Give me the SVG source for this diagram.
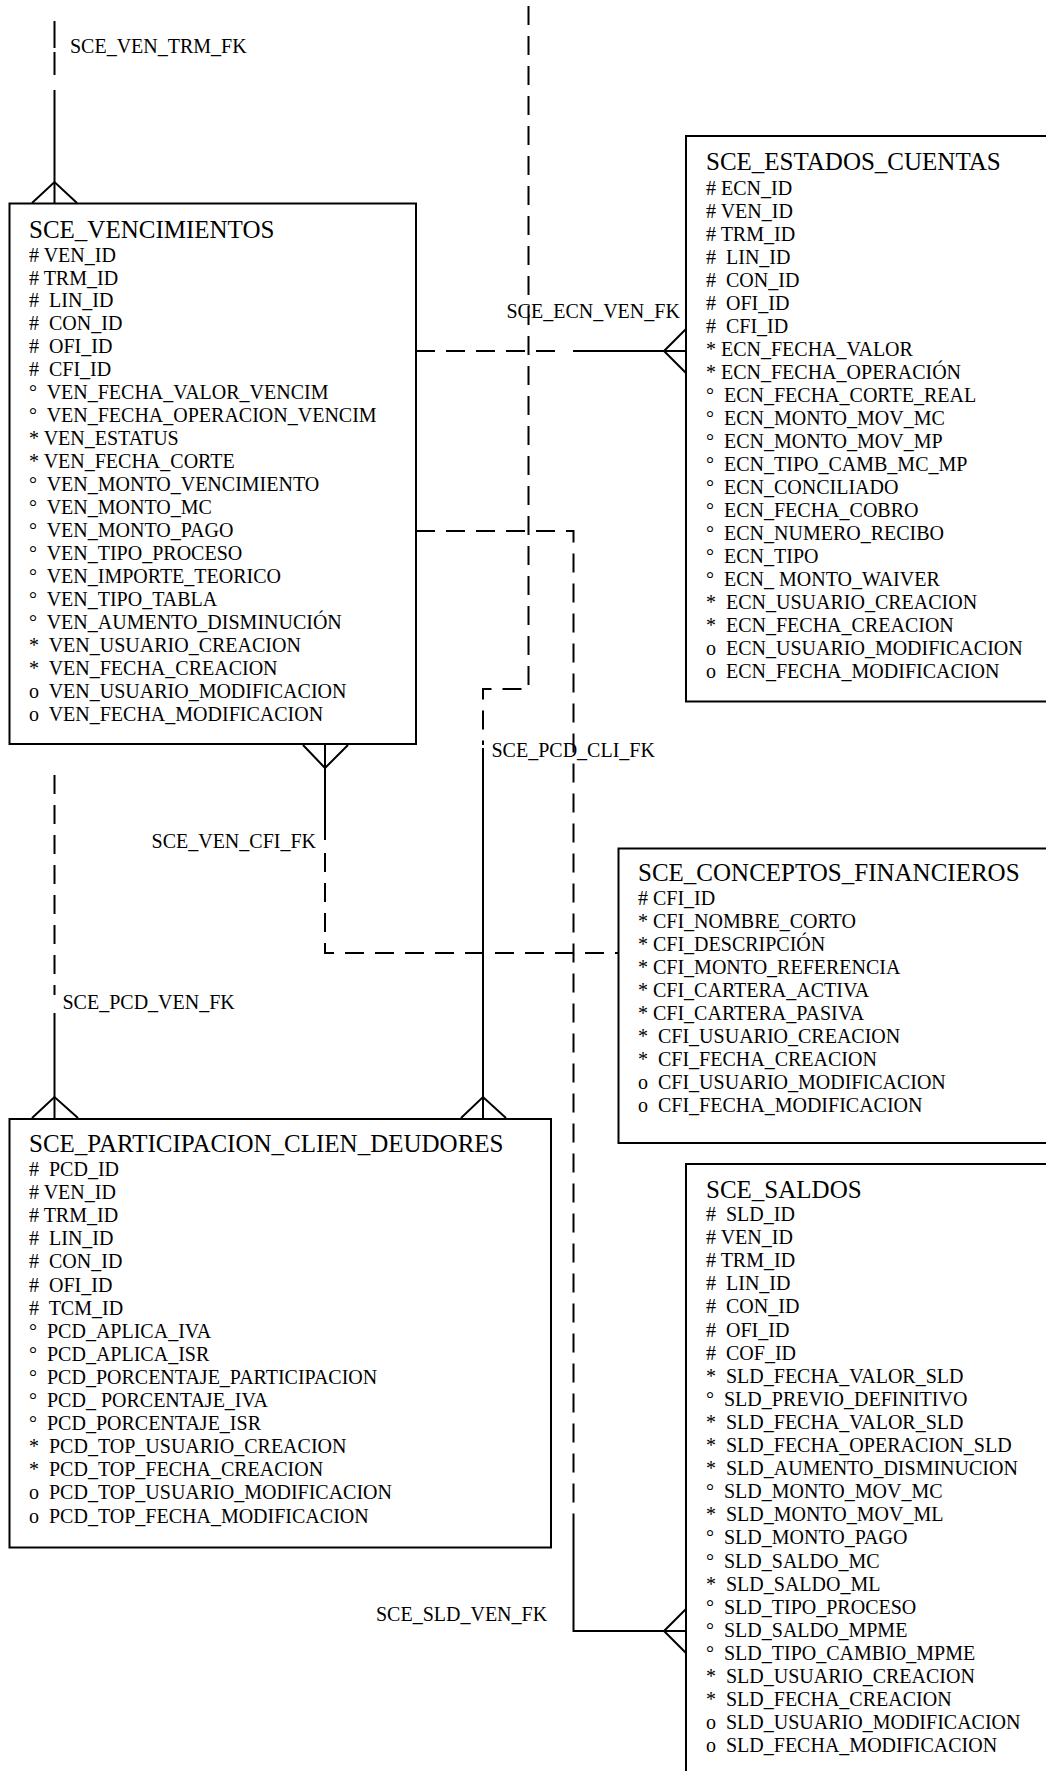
<svg xmlns="http://www.w3.org/2000/svg" width="1046" height="1771" viewBox="0 0 1046 1771">
<style>
.bg{fill:#fff}
.box{fill:#fff;stroke:#000;stroke-width:2}
.t{font-family:"Liberation Serif","Times New Roman",serif;font-size:20px;fill:#000}
.h{font-size:25px}
.sol{fill:none;stroke:#000;stroke-width:2}
.dsh{fill:none;stroke:#000;stroke-width:2;stroke-dasharray:19 11}
</style>
<rect class="bg" x="0" y="0" width="1046" height="1771"/>
<g id="connectors">
  <!-- SCE_VEN_TRM_FK -->
  <path class="sol" d="M54.5 21V48M54.5 52V75M54.5 90V203"/>
  <path class="sol" d="M32 203L54.5 182L77 203"/>
  <!-- SCE_ECN_VEN_FK -->
  <path class="dsh" d="M416 351H566"/>
  <path class="sol" d="M573 351H686"/>
  <path class="sol" d="M686 329L664 351L686 373"/>
  <!-- SCE_SLD_VEN_FK -->
  <path class="dsh" d="M416 531H573.5V1530"/>
  <path class="sol" d="M573.5 1530V1631H686"/>
  <path class="sol" d="M686 1609L664 1631L686 1653"/>
  <!-- SCE_PCD_CLI_FK -->
  <path class="dsh" d="M528.5 6V689H483V745"/>
  <path class="sol" d="M483 748V1118"/>
  <path class="sol" d="M461 1118L483 1097L506 1118"/>
  <!-- SCE_VEN_CFI_FK -->
  <path class="sol" d="M303 745L325 768L348 745M325 745V840"/>
  <path class="dsh" d="M325 853V953H618"/>
  <!-- SCE_PCD_VEN_FK -->
  <path class="dsh" d="M54.5 775V995"/>
  <path class="sol" d="M54.5 1013V1118"/>
  <path class="sol" d="M32 1118L54.5 1097L78 1118"/>
  <!-- labels -->
  <text class="t" x="70" y="53">SCE_VEN_TRM_FK</text>
  <text class="t" x="506.5" y="318">SCE_ECN_VEN_FK</text>
  <text class="t" x="491.5" y="757">SCE_PCD_CLI_FK</text>
  <text class="t" x="316" y="848" text-anchor="end">SCE_VEN_CFI_FK</text>
  <text class="t" x="62.5" y="1009">SCE_PCD_VEN_FK</text>
  <text class="t" x="376" y="1621">SCE_SLD_VEN_FK</text>
</g>
<g id="SCE_VENCIMIENTOS">
  <rect class="box" x="9.5" y="203.5" width="406.5" height="540.5"/>
  <text class="t h" x="29" y="237.5">SCE_VENCIMIENTOS</text>
  <text class="t" x="29" y="261.5"># VEN_ID</text>
  <text class="t" x="29" y="284.5"># TRM_ID</text>
  <text class="t" x="29" y="307.4">#&#160; LIN_ID</text>
  <text class="t" x="29" y="330.4">#&#160; CON_ID</text>
  <text class="t" x="29" y="353.3">#&#160; OFI_ID</text>
  <text class="t" x="29" y="376.3">#&#160; CFI_ID</text>
  <text class="t" x="29" y="399.3">°&#160; VEN_FECHA_VALOR_VENCIM</text>
  <text class="t" x="29" y="422.2">°&#160; VEN_FECHA_OPERACION_VENCIM</text>
  <text class="t" x="29" y="445.2">* VEN_ESTATUS</text>
  <text class="t" x="29" y="468.1">* VEN_FECHA_CORTE</text>
  <text class="t" x="29" y="491.1">°&#160; VEN_MONTO_VENCIMIENTO</text>
  <text class="t" x="29" y="514.1">°&#160; VEN_MONTO_MC</text>
  <text class="t" x="29" y="537">°&#160; VEN_MONTO_PAGO</text>
  <text class="t" x="29" y="560">°&#160; VEN_TIPO_PROCESO</text>
  <text class="t" x="29" y="582.9">°&#160; VEN_IMPORTE_TEORICO</text>
  <text class="t" x="29" y="605.9">°&#160; VEN_TIPO_TABLA</text>
  <text class="t" x="29" y="628.9">°&#160; VEN_AUMENTO_DISMINUCIÓN</text>
  <text class="t" x="29" y="651.8">*&#160; VEN_USUARIO_CREACION</text>
  <text class="t" x="29" y="674.8">*&#160; VEN_FECHA_CREACION</text>
  <text class="t" x="29" y="697.7">o&#160; VEN_USUARIO_MODIFICACION</text>
  <text class="t" x="29" y="720.7">o&#160; VEN_FECHA_MODIFICACION</text>
</g>
<g id="SCE_ESTADOS_CUENTAS">
  <rect class="box" x="686" y="136" width="370" height="565.5"/>
  <text class="t h" x="706" y="170">SCE_ESTADOS_CUENTAS</text>
  <text class="t" x="706" y="194.6"># ECN_ID</text>
  <text class="t" x="706" y="217.6"># VEN_ID</text>
  <text class="t" x="706" y="240.6"># TRM_ID</text>
  <text class="t" x="706" y="263.6">#&#160; LIN_ID</text>
  <text class="t" x="706" y="286.6">#&#160; CON_ID</text>
  <text class="t" x="706" y="309.6">#&#160; OFI_ID</text>
  <text class="t" x="706" y="332.6">#&#160; CFI_ID</text>
  <text class="t" x="706" y="355.6">* ECN_FECHA_VALOR</text>
  <text class="t" x="706" y="378.6">* ECN_FECHA_OPERACIÓN</text>
  <text class="t" x="706" y="401.6">°&#160; ECN_FECHA_CORTE_REAL</text>
  <text class="t" x="706" y="424.6">°&#160; ECN_MONTO_MOV_MC</text>
  <text class="t" x="706" y="447.6">°&#160; ECN_MONTO_MOV_MP</text>
  <text class="t" x="706" y="470.6">°&#160; ECN_TIPO_CAMB_MC_MP</text>
  <text class="t" x="706" y="493.6">°&#160; ECN_CONCILIADO</text>
  <text class="t" x="706" y="516.6">°&#160; ECN_FECHA_COBRO</text>
  <text class="t" x="706" y="539.6">°&#160; ECN_NUMERO_RECIBO</text>
  <text class="t" x="706" y="562.6">°&#160; ECN_TIPO</text>
  <text class="t" x="706" y="585.6">°&#160; ECN_ MONTO_WAIVER</text>
  <text class="t" x="706" y="608.6">*&#160; ECN_USUARIO_CREACION</text>
  <text class="t" x="706" y="631.6">*&#160; ECN_FECHA_CREACION</text>
  <text class="t" x="706" y="654.6">o&#160; ECN_USUARIO_MODIFICACION</text>
  <text class="t" x="706" y="677.6">o&#160; ECN_FECHA_MODIFICACION</text>
</g>
<g id="SCE_CONCEPTOS_FINANCIEROS">
  <rect class="box" x="618.5" y="848.5" width="440" height="294.5"/>
  <text class="t h" x="638" y="881">SCE_CONCEPTOS_FINANCIEROS</text>
  <text class="t" x="638" y="905"># CFI_ID</text>
  <text class="t" x="638" y="928">* CFI_NOMBRE_CORTO</text>
  <text class="t" x="638" y="950.9">* CFI_DESCRIPCIÓN</text>
  <text class="t" x="638" y="973.9">* CFI_MONTO_REFERENCIA</text>
  <text class="t" x="638" y="996.8">* CFI_CARTERA_ACTIVA</text>
  <text class="t" x="638" y="1019.8">* CFI_CARTERA_PASIVA</text>
  <text class="t" x="638" y="1042.8">*&#160; CFI_USUARIO_CREACION</text>
  <text class="t" x="638" y="1065.7">*&#160; CFI_FECHA_CREACION</text>
  <text class="t" x="638" y="1088.7">o&#160; CFI_USUARIO_MODIFICACION</text>
  <text class="t" x="638" y="1111.6">o&#160; CFI_FECHA_MODIFICACION</text>
</g>
<g id="SCE_PARTICIPACION_CLIEN_DEUDORES">
  <rect class="box" x="9.5" y="1119" width="541.5" height="428.5"/>
  <text class="t h" x="29" y="1152">SCE_PARTICIPACION_CLIEN_DEUDORES</text>
  <text class="t" x="29" y="1176">#&#160; PCD_ID</text>
  <text class="t" x="29" y="1199.1"># VEN_ID</text>
  <text class="t" x="29" y="1222.2"># TRM_ID</text>
  <text class="t" x="29" y="1245.3">#&#160; LIN_ID</text>
  <text class="t" x="29" y="1268.4">#&#160; CON_ID</text>
  <text class="t" x="29" y="1291.5">#&#160; OFI_ID</text>
  <text class="t" x="29" y="1314.6">#&#160; TCM_ID</text>
  <text class="t" x="29" y="1337.7">°&#160; PCD_APLICA_IVA</text>
  <text class="t" x="29" y="1360.8">°&#160; PCD_APLICA_ISR</text>
  <text class="t" x="29" y="1383.9">°&#160; PCD_PORCENTAJE_PARTICIPACION</text>
  <text class="t" x="29" y="1407">°&#160; PCD_ PORCENTAJE_IVA</text>
  <text class="t" x="29" y="1430.1">°&#160; PCD_PORCENTAJE_ISR</text>
  <text class="t" x="29" y="1453.2">*&#160; PCD_TOP_USUARIO_CREACION</text>
  <text class="t" x="29" y="1476.3">*&#160; PCD_TOP_FECHA_CREACION</text>
  <text class="t" x="29" y="1499.4">o&#160; PCD_TOP_USUARIO_MODIFICACION</text>
  <text class="t" x="29" y="1522.5">o&#160; PCD_TOP_FECHA_MODIFICACION</text>
</g>
<g id="SCE_SALDOS">
  <rect class="box" x="686" y="1164" width="370" height="620"/>
  <text class="t h" x="706" y="1197.5">SCE_SALDOS</text>
  <text class="t" x="706" y="1221">#&#160; SLD_ID</text>
  <text class="t" x="706" y="1244.1"># VEN_ID</text>
  <text class="t" x="706" y="1267.2"># TRM_ID</text>
  <text class="t" x="706" y="1290.3">#&#160; LIN_ID</text>
  <text class="t" x="706" y="1313.4">#&#160; CON_ID</text>
  <text class="t" x="706" y="1336.5">#&#160; OFI_ID</text>
  <text class="t" x="706" y="1359.6">#&#160; COF_ID</text>
  <text class="t" x="706" y="1382.7">*&#160; SLD_FECHA_VALOR_SLD</text>
  <text class="t" x="706" y="1405.8">°&#160; SLD_PREVIO_DEFINITIVO</text>
  <text class="t" x="706" y="1428.9">*&#160; SLD_FECHA_VALOR_SLD</text>
  <text class="t" x="706" y="1452">*&#160; SLD_FECHA_OPERACION_SLD</text>
  <text class="t" x="706" y="1475.1">*&#160; SLD_AUMENTO_DISMINUCION</text>
  <text class="t" x="706" y="1498.2">°&#160; SLD_MONTO_MOV_MC</text>
  <text class="t" x="706" y="1521.3">*&#160; SLD_MONTO_MOV_ML</text>
  <text class="t" x="706" y="1544.4">°&#160; SLD_MONTO_PAGO</text>
  <text class="t" x="706" y="1567.5">°&#160; SLD_SALDO_MC</text>
  <text class="t" x="706" y="1590.6">*&#160; SLD_SALDO_ML</text>
  <text class="t" x="706" y="1613.7">°&#160; SLD_TIPO_PROCESO</text>
  <text class="t" x="706" y="1636.8">°&#160; SLD_SALDO_MPME</text>
  <text class="t" x="706" y="1659.9">°&#160; SLD_TIPO_CAMBIO_MPME</text>
  <text class="t" x="706" y="1683">*&#160; SLD_USUARIO_CREACION</text>
  <text class="t" x="706" y="1706.1">*&#160; SLD_FECHA_CREACION</text>
  <text class="t" x="706" y="1729.2">o&#160; SLD_USUARIO_MODIFICACION</text>
  <text class="t" x="706" y="1752.3">o&#160; SLD_FECHA_MODIFICACION</text>
</g>
</svg>
